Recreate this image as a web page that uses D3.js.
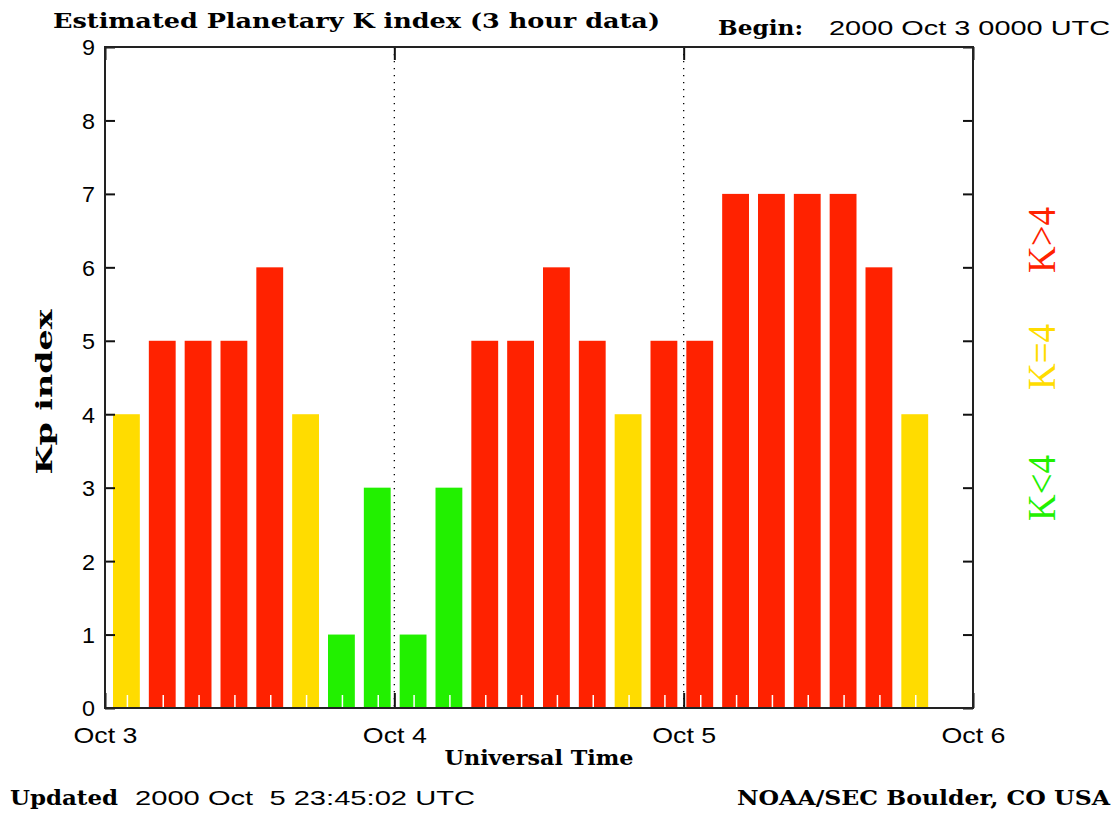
<!DOCTYPE html>
<html>
<head>
<meta charset="utf-8">
<script src="https://cdn.jsdelivr.net/npm/d3@7/dist/d3.min.js"></script>
<style>
  body { margin: 0; background: #fff; }
  svg { display: block; }
  .serifb { font-family: "DejaVu Serif", "Liberation Serif", serif; font-weight: bold; fill: #000; }
  .sans { font-family: "Liberation Sans", "DejaVu Sans", sans-serif; fill: #000; }
</style>
</head>
<body>
<svg id="chart" width="1119" height="813"></svg>
<script>
// 3-hour slots, hours after 2000 Oct 3 0000 UTC
const slotStartHours = [0, 3, 6, 9, 12, 15, 18, 21, 24, 27, 30, 33, 36, 39, 42, 45, 48, 51, 54, 57, 60, 63, 66];
const kpValues = [4, 5, 5, 5, 6, 4, 1, 3, 1, 3, 5, 5, 6, 5, 4, 5, 5, 7, 7, 7, 7, 6, 4];
const dayTicks = [new Date(Date.UTC(2000, 9, 3)), new Date(Date.UTC(2000, 9, 4)),
                  new Date(Date.UTC(2000, 9, 5)), new Date(Date.UTC(2000, 9, 6))];
const dayLabels = ['Oct 3', 'Oct 4', 'Oct 5', 'Oct 6'];
const yTicks = [0, 1, 2, 3, 4, 5, 6, 7, 8, 9];
const legendItems = [
  { label: 'K>4', color: '#ff2200', center: 240 },
  { label: 'K=4', color: '#ffdc00', center: 357 },
  { label: 'K<4', color: '#22f000', center: 488 }
];

const colorFor = v => v > 4 ? '#ff2200' : (v === 4 ? '#ffdc00' : '#22f000');

const plot = { left: 105, right: 973, top: 47, bottom: 708 };
const svg = d3.select('#chart');

// Scales
const x = d3.scaleUtc()
  .domain([dayTicks[0], dayTicks[3]])
  .range([plot.left, plot.right]);
const barX = d3.scaleLinear()
  .domain([0, 72])
  .range([plot.left + 8, plot.right]);
const y = d3.scaleLinear()
  .domain([0, 9])
  .range([plot.bottom, plot.top]);

const barW = barX(3) - barX(0) - 9;

// Bars
svg.append('g').attr('class', 'bars')
  .selectAll('rect')
  .data(kpValues).enter()
  .append('rect')
  .attr('x', (d, i) => barX(slotStartHours[i]))
  .attr('y', d => y(d))
  .attr('width', barW)
  .attr('height', d => y(0) - y(d))
  .style('fill', d => colorFor(d));

// white minor ticks inside bars
svg.append('g').attr('class', 'minor')
  .selectAll('line')
  .data(kpValues).enter()
  .append('line')
  .attr('x1', (d, i) => barX(slotStartHours[i]) + barW / 2 + 1)
  .attr('x2', (d, i) => barX(slotStartHours[i]) + barW / 2 + 1)
  .attr('y1', plot.bottom)
  .attr('y2', plot.bottom - 13)
  .style('stroke', '#fff')
  .style('stroke-width', 1.5);

// dotted day separators
svg.append('g').attr('class', 'days')
  .selectAll('line')
  .data(dayTicks.slice(1, 3)).enter()
  .append('line')
  .attr('x1', d => x(d)).attr('x2', d => x(d))
  .attr('y1', plot.top).attr('y2', plot.bottom)
  .style('stroke', '#000')
  .style('stroke-width', 1.3)
  .style('stroke-dasharray', '1.3,5.7');

// Axes
const xAxis = d3.axisBottom(x)
  .tickValues(dayTicks)
  .tickFormat((d, i) => dayLabels[i])
  .tickSizeInner(-15).tickSizeOuter(0).tickPadding(19);
const gx = svg.append('g')
  .attr('transform', `translate(0,${plot.bottom})`)
  .call(xAxis);

const xTop = d3.axisTop(x)
  .tickValues(dayTicks)
  .tickFormat('')
  .tickSizeInner(-13).tickSizeOuter(0);
const gxt = svg.append('g')
  .attr('transform', `translate(0,${plot.top})`)
  .call(xTop);

const yAxis = d3.axisLeft(y)
  .tickValues(yTicks)
  .tickFormat(d3.format('d'))
  .tickSizeInner(-10).tickSizeOuter(0).tickPadding(10);
const gy = svg.append('g')
  .attr('transform', `translate(${plot.left},0)`)
  .call(yAxis);

const yRight = d3.axisRight(y)
  .tickValues(yTicks)
  .tickFormat('')
  .tickSizeInner(-10).tickSizeOuter(0);
const gyr = svg.append('g')
  .attr('transform', `translate(${plot.right},0)`)
  .call(yRight);

[gx, gxt, gy, gyr].forEach(g => {
  g.select('.domain').remove();
  g.selectAll('line').style('stroke', '#111').style('stroke-width', 2);
  g.selectAll('text')
    .attr('class', 'sans')
    .style('font-size', '22px')
    .style('fill', '#000');
});
gy.selectAll('text').attr('dy', '0.36em').attr('textLength', 13).attr('lengthAdjust', 'spacingAndGlyphs');
gx.selectAll('text').attr('textLength', 64).attr('lengthAdjust', 'spacingAndGlyphs');

// frame
svg.append('rect')
  .attr('x', plot.left).attr('y', plot.top)
  .attr('width', plot.right - plot.left)
  .attr('height', plot.bottom - plot.top)
  .style('fill', 'none')
  .style('stroke', '#222')
  .style('stroke-width', 2);

// Titles and labels
svg.append('text').attr('class', 'serifb')
  .attr('x', 53).attr('y', 28)
  .attr('textLength', 607).attr('lengthAdjust', 'spacingAndGlyphs')
  .style('font-size', '21px')
  .text('Estimated Planetary K index (3 hour data)');

svg.append('text').attr('class', 'serifb')
  .attr('x', 718).attr('y', 35)
  .attr('textLength', 85).attr('lengthAdjust', 'spacingAndGlyphs')
  .style('font-size', '20px')
  .text('Begin:');
svg.append('text').attr('class', 'sans')
  .attr('x', 829).attr('y', 35)
  .attr('textLength', 281).attr('lengthAdjust', 'spacingAndGlyphs')
  .style('font-size', '21px')
  .text('2000 Oct 3 0000 UTC');

svg.append('text').attr('class', 'serifb')
  .attr('x', 539).attr('y', 765)
  .attr('text-anchor', 'middle')
  .attr('textLength', 189).attr('lengthAdjust', 'spacingAndGlyphs')
  .style('font-size', '20px')
  .text('Universal Time');

svg.append('text').attr('class', 'serifb')
  .attr('transform', 'translate(52,392) rotate(-90)')
  .attr('text-anchor', 'middle')
  .attr('textLength', 165).attr('lengthAdjust', 'spacingAndGlyphs')
  .style('font-size', '22px')
  .text('Kp index');

svg.append('text').attr('class', 'serifb')
  .attr('x', 10).attr('y', 805)
  .attr('textLength', 108).attr('lengthAdjust', 'spacingAndGlyphs')
  .style('font-size', '21px')
  .text('Updated');
svg.append('text').attr('class', 'sans')
  .attr('x', 135).attr('y', 805)
  .attr('textLength', 340).attr('lengthAdjust', 'spacingAndGlyphs')
  .style('font-size', '21px')
  .style('white-space', 'pre')
  .text('2000 Oct  5 23:45:02 UTC');

svg.append('text').attr('class', 'serifb')
  .attr('x', 737).attr('y', 805)
  .attr('textLength', 373).attr('lengthAdjust', 'spacingAndGlyphs')
  .style('font-size', '21px')
  .text('NOAA/SEC Boulder, CO USA');

// Legend
svg.append('g').attr('class', 'legend')
  .selectAll('text')
  .data(legendItems).enter()
  .append('text')
  .attr('transform', d => `translate(1055,${d.center}) rotate(-90)`)
  .attr('text-anchor', 'middle')
  .attr('textLength', 66).attr('lengthAdjust', 'spacingAndGlyphs')
  .style('font-family', '"Liberation Serif", "DejaVu Serif", serif')
  .style('font-size', '40px')
  .style('fill', d => d.color)
  .text(d => d.label);
</script>
</body>
</html>
